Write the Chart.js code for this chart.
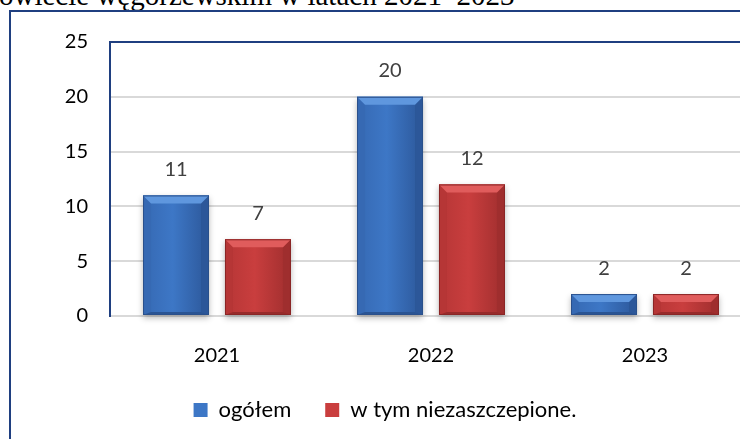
<!DOCTYPE html>
<html lang="pl">
<head>
<meta charset="utf-8">
<script src="https://cdn.jsdelivr.net/npm/chart.js@4"></script>
<style>
    html, body { margin: 0; padding: 0; background: #fff; }
    body { width: 740px; height: 439px; overflow: hidden; position: relative; }
    #title {
        position: absolute; left: -1px; top: -19px;
        font-family: "Liberation Serif", "Times New Roman", serif;
        font-size: 29px; line-height: 29px; white-space: nowrap; color: #000;
    }
    #frame {
        position: absolute; left: 9px; top: 10px; width: 2000px; height: 2000px;
        border-left: 2px solid #1f3f80; border-top: 2px solid #1f3f80;
    }
    #wrap { position: absolute; left: 0; top: 0; width: 850px; height: 439px; }
</style>
</head>
<body>
<div id="title">owiecie węgorzewskim w latach 2021–2023</div>
<div id="frame"></div>
<div id="wrap"><canvas id="chart"></canvas></div>
<script>
// dane wykresu
const years = ['2021', '2022', '2023'];
const totalCases = [11, 20, 2];
const unvaccinatedCases = [7, 12, 2];
const yTicks = [0, 5, 10, 15, 20, 25];

const FONT = 'Lato, "Open Sans", sans-serif';

// kolory słupków (płaskie + fazowanie)
const palettes = [
    { main: '#3d77c6', top: '#5f97de', left: '#3669b3', right: '#2c5799', bottom: '#2a5493', edge: '#2a508c' },
    { main: '#c93e3e', top: '#e05c5c', left: '#b63636', right: '#9f2e2e', bottom: '#972b2b', edge: '#8a2626' }
];

function polygon(ctx, pts, color) {
    ctx.beginPath();
    ctx.moveTo(pts[0][0], pts[0][1]);
    for (let i = 1; i < pts.length; i++) ctx.lineTo(pts[i][0], pts[i][1]);
    ctx.closePath();
    ctx.fillStyle = color;
    ctx.fill();
}

// cień pod słupkami
const shadowPlugin = {
    id: 'barShadow',
    beforeDatasetsDraw(chart) {
        const ctx = chart.ctx;
        ctx.save();
        ctx.shadowColor = 'rgba(0,0,0,0.28)';
        ctx.shadowBlur = 6;
        ctx.shadowOffsetY = 3;
        ctx.fillStyle = '#fff';
        chart.data.datasets.forEach((ds, i) => {
            chart.getDatasetMeta(i).data.forEach(el => {
                ctx.fillRect(el.x - el.width / 2, el.y, el.width, el.base - el.y);
            });
        });
        ctx.restore();
    }
};

// efekt fazowania i etykiety wartości
const bevelPlugin = {
    id: 'bevel',
    afterDatasetsDraw(chart) {
        const ctx = chart.ctx;
        ctx.save();
        chart.data.datasets.forEach((ds, i) => {
            const p = palettes[i];
            chart.getDatasetMeta(i).data.forEach((el, j) => {
                const x0 = el.x - el.width / 2, x1 = el.x + el.width / 2;
                const t = el.y, b = el.base;
                const h = b - t;
                const bv = Math.min(8, h / 2.5);
                const bb = Math.min(3, h / 6);
                // gradient poziomy
                const g = ctx.createLinearGradient(x0, 0, x1, 0);
                g.addColorStop(0, p.left);
                g.addColorStop(0.45, p.main);
                g.addColorStop(1, p.right);
                ctx.fillStyle = g;
                ctx.fillRect(x0, t, x1 - x0, h);
                polygon(ctx, [[x0, t], [x0 + bv, t + bv], [x0 + bv, b - bb], [x0, b]], p.left);
                polygon(ctx, [[x1, t], [x1 - bv, t + bv], [x1 - bv, b - bb], [x1, b]], p.right);
                polygon(ctx, [[x0, b], [x0 + bv, b - bb], [x1 - bv, b - bb], [x1, b]], p.bottom);
                polygon(ctx, [[x0, t], [x1, t], [x1 - bv, t + bv], [x0 + bv, t + bv]], p.top);
                ctx.strokeStyle = p.edge;
                ctx.lineWidth = 1;
                ctx.strokeRect(x0 + 0.5, t + 0.5, x1 - x0 - 1, h - 1);

                // wartość nad słupkiem
                ctx.fillStyle = '#404040';
                ctx.font = '20px ' + FONT;
                ctx.textAlign = 'center';
                ctx.textBaseline = 'middle';
                ctx.fillText(ds.data[j], el.x, t - 26);
            });
        });
        ctx.restore();
    }
};

const ctx = document.getElementById('chart').getContext('2d');
new Chart(ctx, {
    type: 'bar',
    data: {
        labels: years,
        datasets: [
            {
                label: 'ogółem',
                data: totalCases,
                backgroundColor: palettes[0].main,
                borderColor: palettes[0].edge,
                borderWidth: 0,
                categoryPercentage: 0.766,
                barPercentage: 0.805
            },
            {
                label: 'w tym niezaszczepione.',
                data: unvaccinatedCases,
                backgroundColor: palettes[1].main,
                borderColor: palettes[1].edge,
                borderWidth: 0,
                categoryPercentage: 0.766,
                barPercentage: 0.805
            }
        ]
    },
    options: {
        responsive: true,
        maintainAspectRatio: false,
        animation: false,
        layout: { padding: { left: 18, right: 98, top: 42, bottom: 8 } },
        plugins: {
            title: { display: false },
            tooltip: { enabled: false },
            legend: {
                position: 'bottom',
                labels: {
                    boxWidth: 14,
                    boxHeight: 14,
                    padding: 34,
                    color: '#000',
                    font: { family: FONT, size: 22 }
                }
            }
        },
        scales: {
            x: {
                grid: { display: false },
                border: { display: false },
                ticks: { color: '#000', padding: 20, font: { family: FONT, size: 20 } },
                afterFit: axis => { axis.height = 49; }
            },
            y: {
                min: 0,
                max: 25,
                afterBuildTicks: axis => { axis.ticks = yTicks.map(v => ({ value: v })); },
                afterFit: axis => { axis.width = 92; },
                grid: {
                    drawTicks: false,
                    lineWidth: 2,
                    color: c => (c.tick && c.tick.value === 25 ? '#1f3f80' : '#d9d9d9')
                },
                border: { color: '#1f3f80', width: 2 },
                ticks: { color: '#000', padding: 22, font: { family: FONT, size: 20 } }
            }
        }
    },
    plugins: [shadowPlugin, bevelPlugin]
});
</script>
</body>
</html>
